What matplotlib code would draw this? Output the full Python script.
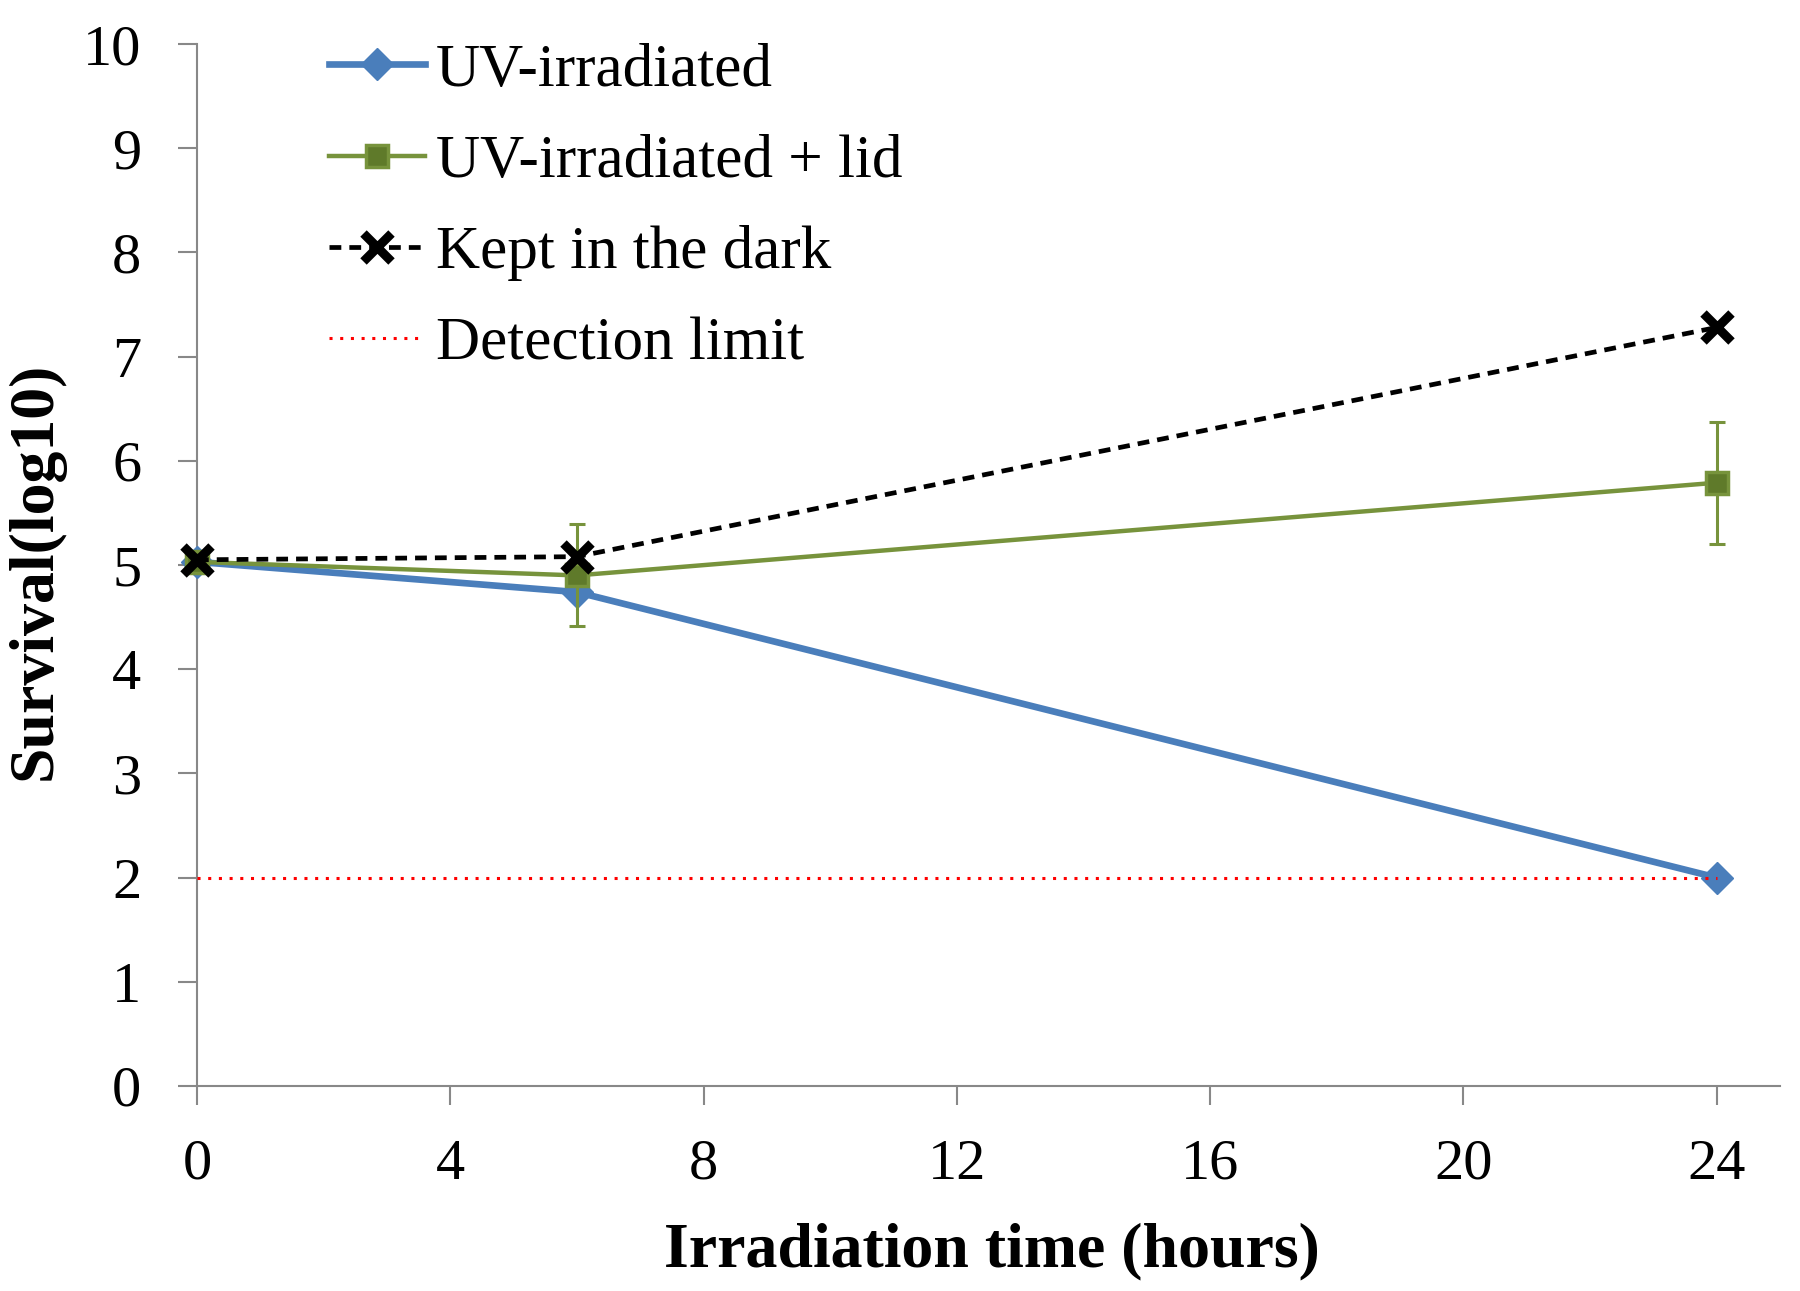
import matplotlib
matplotlib.use('Agg')
import matplotlib.pyplot as plt

# data
hours = [0, 6, 24]
uv = [5.03, 4.74, 2.0]
uv_lid = [5.03, 4.90, 5.79]
uv_lid_err = [0.0, 0.49, 0.585]
dark = [5.05, 5.08, 7.28]
detection_limit = 2.0

xticks = [0, 4, 8, 12, 16, 20, 24]
yticks = list(range(0, 11))

plt.rcParams['font.family'] = 'Liberation Serif'

fig = plt.figure(figsize=(18, 12.91), dpi=100)
ax = fig.add_axes([0.1094, 0.1588, 0.8795, 0.8071])

l1, = ax.plot(hours, uv, color='#4A7EBB', lw=4.8, marker='D', markersize=16,
              markerfacecolor='#4A7EBB', markeredgecolor='#4A7EBB',
              label='UV-irradiated', zorder=3, clip_on=False)
ax.errorbar(hours, uv_lid, yerr=uv_lid_err, fmt='none', ecolor='#77933C',
            elinewidth=2.2, capsize=6, capthick=2.2, zorder=4)
l2, = ax.plot(hours, uv_lid, color='#77933C', lw=3.2, marker='s', markersize=16,
              markerfacecolor='#5F7A2A', markeredgecolor='#77933C', markeredgewidth=2.5,
              label='UV-irradiated + lid', zorder=4, clip_on=False)
l3, = ax.plot(hours, dark, color='black', lw=3.4, ls=(0, (2.5, 1.7)), marker='x',
              markersize=20, markeredgewidth=6.5, label='Kept in the dark', zorder=5,
              clip_on=False)
l4, = ax.plot([hours[0], hours[-1]], [detection_limit, detection_limit], color='red',
              lw=2.2, ls=(0, (1, 2.5)), label='Detection limit', zorder=6)

ax.set_xlim(0, 25)
ax.set_ylim(0, 10)
ax.set_xticks(xticks)
ax.set_yticks(yticks)

for s in ['top', 'right']:
    ax.spines[s].set_visible(False)
for s in ['left', 'bottom']:
    ax.spines[s].set_color('#888888')
    ax.spines[s].set_linewidth(1.5)

ax.tick_params(axis='both', direction='out', length=14, width=1.5, color='#888888',
               labelsize=42)
ax.tick_params(axis='x', pad=24)
ax.tick_params(axis='y', pad=26)

ax.set_xlabel('Irradiation time (hours)', fontsize=46, fontweight='bold', va='center')
ax.xaxis.set_label_coords(0.502, -0.159)
ax.set_ylabel('Survival(log10)', fontsize=46, fontweight='bold', va='center', ha='center')
ax.yaxis.set_label_coords(-0.102, 0.494)

ax.legend(handles=[l1, l2, l3, l4], loc='upper left',
          bbox_to_anchor=(329 / 1800, 1 - 43 / 1291),
          bbox_transform=fig.transFigure, frameon=False, fontsize=44,
          borderpad=0, borderaxespad=0, handlelength=1.57, handletextpad=0.18,
          labelspacing=0.58)

fig.savefig('out.png', dpi=100)
